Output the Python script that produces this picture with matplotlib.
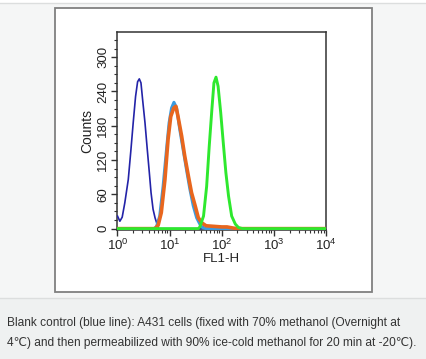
import matplotlib
matplotlib.use("Agg")
import matplotlib.pyplot as plt
from matplotlib.patches import Rectangle
from matplotlib.lines import Line2D
from matplotlib.ticker import MultipleLocator, LogLocator, NullFormatter

plt.rcParams["font.family"] = ["Liberation Sans", "DejaVu Sans"]
plt.rcParams["mathtext.fontset"] = "custom"
plt.rcParams["mathtext.rm"] = "Liberation Sans"
plt.rcParams["mathtext.it"] = "Liberation Sans:italic"

# blank control (dark blue)
blank_x = [1.00, 1.11, 1.23, 1.38, 1.61, 1.81, 2.00, 2.22, 2.43, 2.62, 2.82, 3.03,
           3.37, 3.73, 4.08, 4.40, 4.81, 5.25, 5.74, 6.10, 40.0, 44.0, 48.0, 10000]
blank_y = [22, 13, 20, 45, 86, 138, 185, 231, 257, 262, 255, 226,
           185, 138, 98, 63, 34, 19, 8, 0, 0, 3, 0, 0]

# light blue sample
lblue_x = [1.00, 5.00, 5.58, 6.46, 7.50, 8.71, 9.77, 10.9, 12.1, 13.6, 15.7, 18.2,
           21.1, 24.5, 28.4, 33.0, 38.0, 42.7, 50.0, 10000]
lblue_y = [0, 0, 3, 22, 74, 138, 185, 211, 221, 211, 173, 138,
           103, 69, 40, 19, 8, 2, 0, 0]

# orange sample
orange_x = [1.00, 5.25, 6.03, 6.92, 8.13, 9.33, 10.5, 12.0, 13.2, 14.5, 17.0, 19.5,
            22.9, 26.3, 30.9, 35.5, 41.7, 50.1, 70.8, 100, 126, 166, 200, 10000]
orange_y = [0, 0, 6, 28, 86, 156, 196, 211, 214, 196, 162, 127,
            92, 63, 40, 19, 10, 5, 4, 3, 3, 1, 0, 0]

# green sample
green_x = [1.00, 35.5, 38.0, 44.7, 51.3, 57.5, 64.6, 70.8, 77.6, 85.1, 95.5, 107,
           120, 135, 155, 182, 209, 251, 10000]
green_y = [0, 0, 3, 22, 74, 144, 208, 255, 265, 249, 203, 150,
           98, 57, 22, 8, 2, 0, 0]

caption = ("Blank control (blue line): A431 cells (fixed with 70% methanol (Overnight at\n"
           "4\u2103) and then permeabilized with 90% ice-cold methanol for 20 min at -20\u2103).")

W, H = 427, 359
fig = plt.figure(figsize=(W / 100, H / 100), dpi=100)
fig.patch.set_facecolor("#f5f6f6")


def fx(px):
    return px / W


def fy(py):
    return 1 - py / H


# page decoration
fig.patches.append(Rectangle((0, 0), 1, fy(297.5), transform=fig.transFigure,
                             facecolor="#eff1f1", edgecolor="none", zorder=0))
fig.patches.append(Rectangle((0, fy(2.5)), 1, 1 - fy(2.5), transform=fig.transFigure,
                             facecolor="#ffffff", edgecolor="none", zorder=0))
fig.lines.append(Line2D([0, 1], [fy(2.5), fy(2.5)], transform=fig.transFigure,
                        color="#dcdede", lw=1))
fig.lines.append(Line2D([0, 1], [fy(297.5), fy(297.5)], transform=fig.transFigure,
                        color="#dcdede", lw=1))
fig.patches.append(Rectangle((fx(55), fy(292)), fx(372) - fx(55), fy(8) - fy(292),
                             transform=fig.transFigure, facecolor="white",
                             edgecolor="#808080", lw=1.3, zorder=1))

ax = fig.add_axes([fx(117.5), fy(229.5), fx(326) - fx(117.5), fy(32) - fy(229.5)])
ax.set_zorder(2)

ax.plot(blank_x, blank_y, color="#2323a8", lw=1.2, zorder=3)
ax.plot(lblue_x, lblue_y, color="#3a9be0", lw=2.2, zorder=4)
ax.plot(orange_x, orange_y, color="#e8661e", lw=2.6, zorder=5)
ax.plot(green_x, green_y, color="#2ee82e", lw=2.1, zorder=6)

ax.set_xscale("log")
ax.set_xlim(1, 10000)
ax.set_ylim(-1.5, 344)
ax.xaxis.set_major_locator(LogLocator(base=10, numticks=10))
ax.xaxis.set_minor_locator(LogLocator(base=10, subs=range(2, 10), numticks=10))
ax.xaxis.set_minor_formatter(NullFormatter())
ax.yaxis.set_major_locator(MultipleLocator(60))
ax.yaxis.set_minor_locator(MultipleLocator(15))

for s in ax.spines.values():
    s.set_color("#333333")
    s.set_linewidth(1.1)
ax.tick_params(which="major", direction="out", length=4, width=1, color="#333333",
               labelsize=9.5, labelcolor="#222222", pad=2)
ax.tick_params(which="minor", direction="out", length=2.5, width=0.8, color="#333333")
for lab in ax.get_yticklabels():
    lab.set_rotation(90)
    lab.set_va("center")

ax.set_xlabel("FL1-H", fontsize=9.5, color="#222222", labelpad=0)
ax.set_ylabel("Counts", fontsize=10, color="#222222", labelpad=2)

fig.text(fx(7), fy(333), caption, fontsize=8.55, color="#333333",
         ha="left", va="center", linespacing=1.95)

fig.savefig("out.png", dpi=100, facecolor=fig.get_facecolor())
